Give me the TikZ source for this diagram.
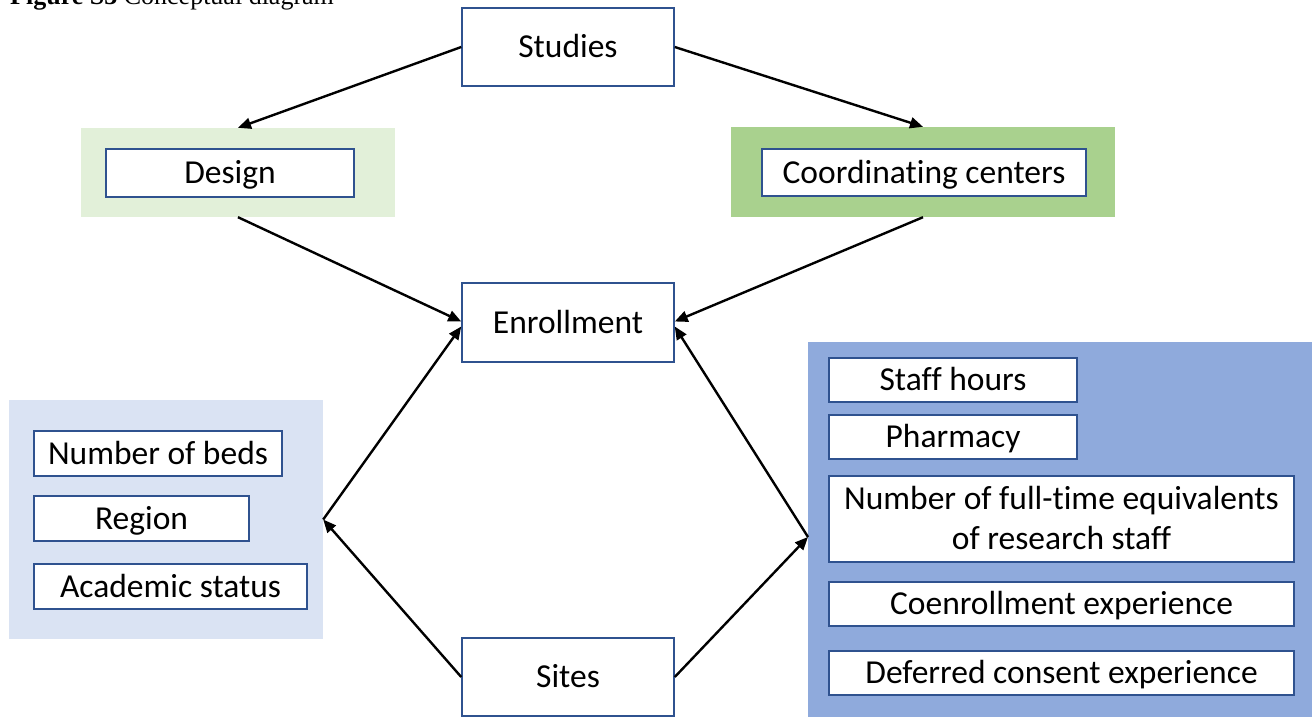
\documentclass[tikz,border=0pt]{standalone}
\usepackage{fontspec}
\setmainfont{Carlito}[Ligatures=NoCommon]
\newfontfamily\captionserif{Liberation Serif}
\usetikzlibrary{arrows.meta}

\definecolor{boxline}{HTML}{2F528F}
\definecolor{paleGreen}{HTML}{E2F0D9}
\definecolor{midGreen}{HTML}{A9D18E}
\definecolor{paleBlue}{HTML}{DAE3F3}
\definecolor{midBlue}{HTML}{8FAADC}

\tikzset{
  panel/.style={draw=none, inner sep=0pt, minimum width=#1},
  itembox/.style={draw=boxline, line width=1.5pt, fill=white, inner sep=0pt,
    align=center, text height=21pt, text depth=0pt,
    font=\fontsize{33.5}{40}\selectfont},
  link/.style={draw=black, line width=2.4pt, -{Triangle[length=13pt,width=11pt]}},
}

\begin{document}
\begin{tikzpicture}[x=1pt, y=-1pt]
\useasboundingbox (0,0) rectangle (1312,717);
\clip (0,0) rectangle (1312,717);

% caption line at the very top
\node[anchor=base west, inner sep=0pt, font=\captionserif\fontsize{26}{30}\selectfont]
  (title) at (10,5) {\textbf{Figure S3} Conceptual diagram};

% coloured group panels
\node[panel=314pt, minimum height=89pt, fill=paleGreen] (designbg) at (238,172.5) {};
\node[panel=384pt, minimum height=90pt, fill=midGreen]  (coordbg)  at (923,172) {};
\node[panel=314pt, minimum height=239pt, fill=paleBlue] (sitebg)   at (166,519.5) {};
\node[panel=506pt, minimum height=378pt, fill=midBlue]  (staffbg)  at (1061,531) {};
\coordinate (staffin) at (808,537);

% main boxes
\node[itembox, minimum width=212pt, minimum height=78pt] (studies)    at (568,47) {Studies};
\node[itembox, minimum width=212pt, minimum height=79pt] (enrollment) at (568,322.5) {Enrollment};
\node[itembox, minimum width=212pt, minimum height=78pt] (sites)      at (568,677) {Sites};

% connectors
\draw[link] (studies.west) -- (designbg.north);
\draw[link] (studies.east) -- (coordbg.north);
\draw[link] (designbg.south) -- ([yshift=1pt]enrollment.west);
\draw[link] (coordbg.south) -- ([yshift=1pt]enrollment.east);
\draw[link] (sitebg.east) -- ([yshift=-4pt]enrollment.west);
\draw[link] (staffin) -- ([yshift=-4pt]enrollment.east);
\draw[link] (sites.west) -- (sitebg.east);
\draw[link] (sites.east) -- (staffin);

% study-level factors
\node[itembox, minimum width=248pt, minimum height=48pt] (design) at (230,173) {Design};
\node[itembox, minimum width=324pt, minimum height=47pt] (coord)  at (924,172.5) {Coordinating centers};

% site characteristics
\node[itembox, minimum width=248pt, minimum height=45pt] (beds)     at (158,453.5) {Number of beds};
\node[itembox, minimum width=215pt, minimum height=45pt] (region)   at (141.5,518.5) {Region};
\node[itembox, minimum width=273pt, minimum height=45pt] (academic) at (170.5,586.5) {Academic status};

% research staffing and experience
\node[itembox, minimum width=248pt, minimum height=44pt] (hours)    at (953,380) {Staff hours};
\node[itembox, minimum width=248pt, minimum height=44pt] (pharmacy) at (953,437) {Pharmacy};
\node[itembox, minimum width=465pt, minimum height=86pt, text height=61pt] (fte) at (1061.5,519)
  {Number of full-time equivalents\\of research staff};
\node[itembox, minimum width=465pt, minimum height=44pt] (coenrol)  at (1061.5,604) {Coenrollment experience};
\node[itembox, minimum width=465pt, minimum height=44pt] (deferred) at (1061.5,673) {Deferred consent experience};
\end{tikzpicture}
\end{document}
